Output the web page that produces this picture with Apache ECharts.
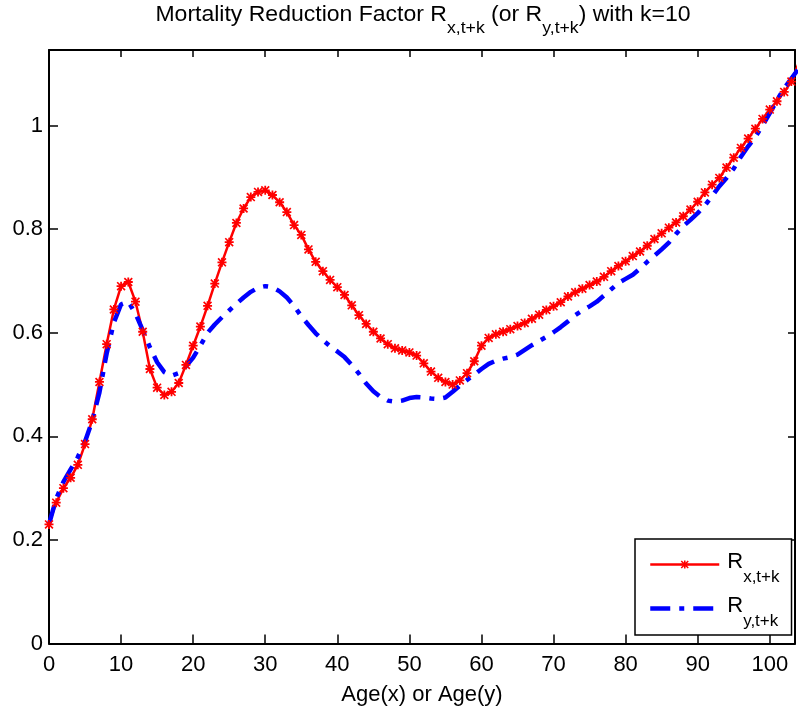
<!DOCTYPE html>
<html>
<head>
<meta charset="utf-8">
<script src="https://cdn.jsdelivr.net/npm/echarts@6/dist/echarts.min.js"></script>
<style>
  html, body { margin: 0; padding: 0; background: #fff; }
  #chart { width: 798px; height: 711px; }
</style>
</head>
<body>
<div id="chart"></div>
<script>
// ages 0..104 (the last one falls just outside the axis and is clipped)
var ages = [];
for (var a = 0; a <= 104; a++) ages.push(a);

// R x,t+k  (red, star markers)
var rx = [
  0.230, 0.272, 0.300, 0.320, 0.345, 0.385, 0.433, 0.505, 0.578, 0.645,
  0.690, 0.698, 0.660, 0.602, 0.530, 0.494, 0.480, 0.486, 0.503, 0.538,
  0.575, 0.612, 0.652, 0.695, 0.736, 0.775, 0.812, 0.840, 0.862, 0.872,
  0.875, 0.866, 0.852, 0.833, 0.808, 0.789, 0.761, 0.737, 0.719, 0.702,
  0.688, 0.673, 0.653, 0.634, 0.617, 0.602, 0.589, 0.578, 0.570, 0.566,
  0.562, 0.556, 0.541, 0.525, 0.513, 0.505, 0.500, 0.508, 0.522, 0.545,
  0.575, 0.590, 0.597, 0.602, 0.607, 0.613, 0.619, 0.627, 0.635, 0.644,
  0.651, 0.659, 0.670, 0.678, 0.685, 0.692, 0.699, 0.708, 0.719, 0.729,
  0.738, 0.748, 0.757, 0.768, 0.781, 0.792, 0.803, 0.813, 0.825, 0.838,
  0.853, 0.871, 0.886, 0.899, 0.919, 0.938, 0.957, 0.975, 0.994, 1.013,
  1.031, 1.047, 1.065, 1.085, 1.120
];

// R y,t+k  (blue, dash-dot)
var ry = [
  0.230, 0.280, 0.312, 0.336, 0.360, 0.390, 0.430, 0.485, 0.560, 0.620,
  0.655, 0.660, 0.637, 0.605, 0.572, 0.543, 0.524, 0.517, 0.522, 0.535,
  0.552, 0.575, 0.600, 0.616, 0.630, 0.643, 0.656, 0.668, 0.679, 0.687,
  0.690, 0.688, 0.680, 0.668, 0.652, 0.632, 0.615, 0.599, 0.586, 0.574,
  0.564, 0.553, 0.538, 0.521, 0.502, 0.487, 0.476, 0.469, 0.467, 0.469,
  0.474, 0.476, 0.475, 0.473, 0.472, 0.475, 0.486, 0.498, 0.509, 0.519,
  0.530, 0.540, 0.546, 0.550, 0.553, 0.558, 0.567, 0.576, 0.584, 0.592,
  0.601, 0.611, 0.622, 0.634, 0.643, 0.651, 0.660, 0.672, 0.684, 0.696,
  0.704, 0.712, 0.724, 0.737, 0.749, 0.761, 0.774, 0.791, 0.806, 0.818,
  0.831, 0.846, 0.864, 0.883, 0.899, 0.917, 0.940, 0.960, 0.978, 1.000,
  1.024, 1.049, 1.072, 1.091, 1.110
];

var xTicks = [0, 10, 20, 30, 40, 50, 60, 70, 80, 90, 100];
var yTicks = [0, 0.2, 0.4, 0.6, 0.8, 1];

var XMAX = 103.5, YMAX = 1.146;
var FONT = 'Liberation Sans, Arial, Helvetica, sans-serif';

function pairs(xs, ys) {
  var out = [];
  for (var i = 0; i < ys.length; i++) out.push([xs[i], ys[i]]);
  return out;
}

// matlab '*' marker
var star = 'path://M0 4H10V6H0Z M4 0H6V10H4Z M1.3 0L10 8.7L8.7 10L0 1.3Z M8.7 0L10 1.3L1.3 10L0 8.7Z';

var subRich = {
  r: { fontSize: 22, fontFamily: FONT, color: '#000', lineHeight: 24, padding: [0, 0, 6, 3] },
  s: { fontSize: 17, fontFamily: FONT, color: '#000', lineHeight: 16, padding: [26, 0, 0, 0] }
};

var chart = echarts.init(document.getElementById('chart'));

var axisLine = { show: true, onZero: false, lineStyle: { color: '#000', width: 2 } };

chart.setOption({
  animation: false,
  backgroundColor: '#fff',
  grid: { left: 49, right: 1, top: 50, bottom: 67.5 },
  graphic: [{
    type: 'text',
    x: 423,
    y: 15,
    scaleX: 1.07,
    style: {
      text: '{m|Mortality Reduction Factor R}{s|x,t+k}{m| (or R}{s|y,t+k}{m|) with k=10}',
      align: 'center',
      verticalAlign: 'middle',
      rich: {
        m: { fontSize: 21.5, fontFamily: FONT, fill: '#000', lineHeight: 24 },
        s: { fontSize: 16.5, fontFamily: FONT, fill: '#000', lineHeight: 16, padding: [26, 0, 0, 0] }
      }
    }
  }],
  legend: {
    left: 635,
    top: 539,
    orient: 'vertical',
    padding: [4, 12, 5, 13],
    itemWidth: 69,
    itemHeight: 10,
    itemGap: 1,
    backgroundColor: '#fff',
    borderColor: '#000',
    borderWidth: 1.5,
    borderRadius: 0,
    lineStyle: { width: 'inherit', type: 'inherit' },
    data: ['Rx', 'Ry'],
    formatter: function (name) {
      return name === 'Rx' ? '{r|R}{s|x,t+k}' : '{r|R}{s|y,t+k}';
    },
    textStyle: { rich: subRich }
  },
  xAxis: [{
    type: 'value',
    min: 0, max: XMAX, interval: 10,
    position: 'bottom',
    axisLine: axisLine,
    axisTick: { show: true, inside: true, length: 9, lineStyle: { color: '#000', width: 1.5 } },
    axisLabel: {
      color: '#000', fontSize: 22, fontFamily: FONT, margin: 10,
      formatter: function (v) { return xTicks.indexOf(v) >= 0 ? String(v) : ''; }
    },
    splitLine: { show: false },
    name: 'Age(x) or Age(y)',
    nameLocation: 'middle',
    nameGap: 40,
    nameTextStyle: { color: '#000', fontSize: 22, fontFamily: FONT }
  }, {
    type: 'value',
    min: 0, max: XMAX, interval: 10,
    position: 'top',
    axisLine: axisLine,
    axisTick: { show: true, inside: true, length: 7, lineStyle: { color: '#000', width: 1.5 } },
    axisLabel: { show: false },
    splitLine: { show: false }
  }],
  yAxis: [{
    type: 'value',
    min: 0, max: YMAX, interval: 0.2,
    position: 'left',
    axisLine: axisLine,
    axisTick: { show: true, inside: true, length: 9, lineStyle: { color: '#000', width: 1.5 } },
    axisLabel: {
      color: '#000', fontSize: 22, fontFamily: FONT, margin: 6,
      formatter: function (v) {
        for (var i = 0; i < yTicks.length; i++) {
          if (Math.abs(v - yTicks[i]) < 1e-6) return String(yTicks[i]);
        }
        return '';
      }
    },
    splitLine: { show: false }
  }, {
    type: 'value',
    min: 0, max: YMAX, interval: 0.2,
    position: 'right',
    axisLine: axisLine,
    axisTick: { show: true, inside: true, length: 7, lineStyle: { color: '#000', width: 1.5 } },
    axisLabel: { show: false },
    splitLine: { show: false }
  }],
  series: [{
    name: 'Rx',
    type: 'line',
    data: pairs(ages, rx),
    symbol: star,
    symbolSize: 9,
    showAllSymbol: true,
    clip: true,
    lineStyle: { color: '#ff0000', width: 2.5 },
    itemStyle: { color: '#ff0000' }
  }, {
    name: 'Ry',
    type: 'line',
    data: pairs(ages, ry),
    showSymbol: false,
    symbol: 'circle',
    clip: true,
    lineStyle: { color: '#0000ff', width: 4.5, type: [20, 9, 5, 9], cap: 'butt' },
    itemStyle: { color: 'rgba(0,0,255,0)' }
  }]
});
</script>
</body>
</html>
